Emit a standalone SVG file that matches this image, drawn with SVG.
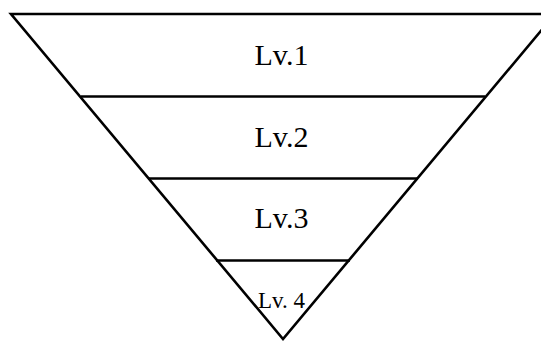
<svg xmlns="http://www.w3.org/2000/svg" width="541" height="341" viewBox="0 0 541 341">
<style>
.ln{stroke:#000;stroke-width:2.6;fill:none}
.t{font-family:"Liberation Serif",serif;fill:#000;text-anchor:middle}
</style>
<rect width="541" height="341" fill="#fff"/>
<g id="connectors">
<polygon class="ln" points="11,14 555,14 283,339"/>
<line class="ln" x1="81" y1="96.5" x2="485" y2="96.5"/>
<line class="ln" x1="148" y1="178.5" x2="418" y2="178.5"/>
<line class="ln" x1="216" y1="260.5" x2="350" y2="260.5"/>
</g>
<g id="lv1"><text class="t" x="281.5" y="65" font-size="30">Lv.1</text></g>
<g id="lv2"><text class="t" x="281.5" y="147" font-size="30">Lv.2</text></g>
<g id="lv3"><text class="t" x="281.5" y="228" font-size="30">Lv.3</text></g>
<g id="lv4"><text class="t" x="281.5" y="308" font-size="23">Lv. 4</text></g>
</svg>
